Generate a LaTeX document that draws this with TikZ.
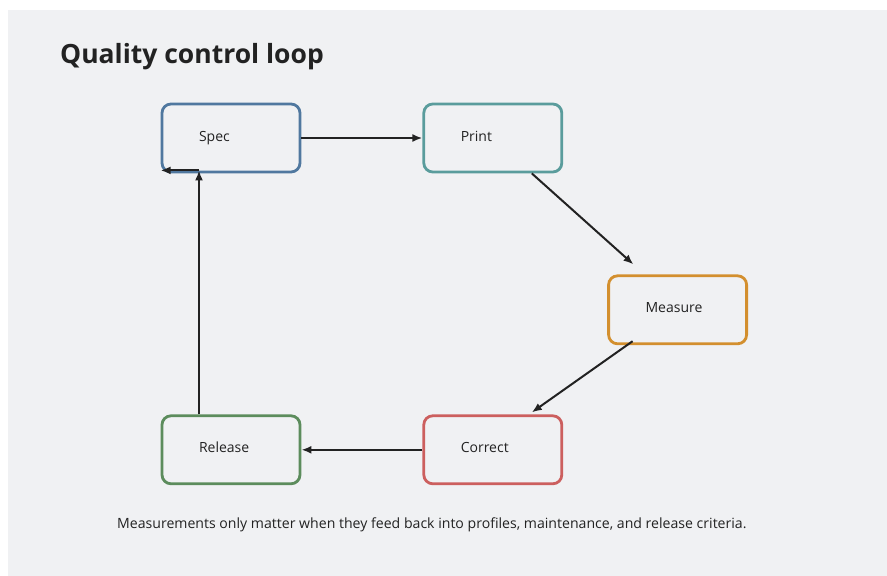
\documentclass[tikz,border=0pt]{standalone}
\usepackage{fontspec}
\setmainfont{Open Sans}
\usetikzlibrary{positioning, arrows.meta}
\definecolor{panel}{HTML}{F0F1F3}
\definecolor{ink}{HTML}{222222}
\definecolor{specc}{HTML}{50789F}
\definecolor{printc}{HTML}{5A9C9C}
\definecolor{measurec}{HTML}{D38F2E}
\definecolor{correctc}{HTML}{CC5F5E}
\definecolor{releasec}{HTML}{5C8C5C}

\begin{document}
\begin{tikzpicture}[x=1pt, y=-1pt, stage/.style={draw, rounded corners=9pt, line width=2.8pt, minimum height=68pt, inner xsep=37pt, inner ysep=0pt, text width=64pt, text height=10pt, text depth=4pt, align=left, font=\fontsize{14}{16}\selectfont, text=ink}, flow/.style={->, >={Latex[length=10pt, width=8pt]}, line width=2pt, draw=ink}]
            % panel
            \useasboundingbox (0,0) rectangle (887,576);
            \fill[panel] (8,10) rectangle (887,576);
            \node[anchor=base west, inner sep=0pt, font=\fontsize{26.5}{30}\selectfont\bfseries, text=ink] (title) at (60,63) {Quality control loop};
            % top row
            \node[stage, draw=specc] (spec) at (231,138) {Spec};
            \node[stage, draw=printc, right=121pt of spec] (print) {Print};
            \draw[flow] (spec)--(print);
            % right
            \node[stage, draw=measurec, below right=101pt and 44pt of print] (measure) {Measure};
            \draw[flow, shorten >=15pt] ([xshift=39pt]print.south)--([xshift=-33pt]measure.north);
            % bottom row
            \node[stage, draw=releasec, below=241pt of spec] (release) {Release};
            \node[stage, draw=correctc, right=121pt of release] (correct) {Correct};
            \draw[flow] ([xshift=-45pt, yshift=4pt]measure.south)--([xshift=39pt, yshift=2pt]correct.north);
            \draw[flow] (correct)--(release);
            % back to spec
            \coordinate (bend) at ([xshift=-32pt, yshift=3pt]spec.south);
            \draw[flow] ([xshift=-32pt]release.north)--(bend);
            \draw[flow] (bend)--(bend -| spec.west);
            \node[anchor=base west, inner sep=0pt, font=\fontsize{14.1}{16}\selectfont, text=ink] (note) at (117,528) {Measurements only matter when they feed back into profiles, maintenance, and release criteria.};
        \end{tikzpicture}
\end{document}
